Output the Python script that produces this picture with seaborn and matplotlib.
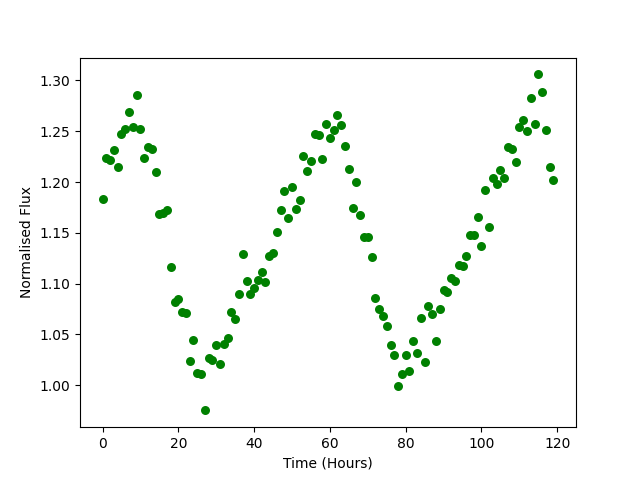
import numpy as np
import pandas as pd
import matplotlib
matplotlib.use('Agg')
import matplotlib.pyplot as plt
import seaborn as sns

# time in hours and normalised flux
hours = list(range(120))
flux = [1.183, 1.224, 1.222, 1.232, 1.215, 1.247, 1.252, 1.269, 1.254, 1.286,
        1.252, 1.224, 1.234, 1.233, 1.210, 1.168, 1.169, 1.172, 1.116, 1.082,
        1.085, 1.072, 1.071, 1.024, 1.044, 1.012, 1.011, 0.975, 1.027, 1.025,
        1.039, 1.021, 1.040, 1.046, 1.072, 1.065, 1.090, 1.129, 1.102, 1.090,
        1.096, 1.103, 1.111, 1.101, 1.127, 1.130, 1.151, 1.172, 1.191, 1.165,
        1.195, 1.173, 1.182, 1.226, 1.211, 1.221, 1.247, 1.246, 1.223, 1.257,
        1.243, 1.251, 1.266, 1.256, 1.235, 1.213, 1.174, 1.200, 1.167, 1.146,
        1.146, 1.126, 1.086, 1.075, 1.068, 1.058, 1.039, 1.030, 0.999, 1.011,
        1.030, 1.014, 1.043, 1.032, 1.066, 1.023, 1.078, 1.070, 1.043, 1.075,
        1.094, 1.092, 1.105, 1.102, 1.118, 1.117, 1.127, 1.148, 1.148, 1.166,
        1.137, 1.192, 1.156, 1.204, 1.198, 1.212, 1.204, 1.234, 1.233, 1.220,
        1.254, 1.261, 1.250, 1.283, 1.257, 1.306, 1.289, 1.251, 1.215, 1.202]

df = pd.DataFrame({'Time': hours, 'Flux': flux})

fig, ax = plt.subplots(figsize=(6.4, 4.8), dpi=100)
sns.scatterplot(data=df, x='Time', y='Flux', color='green', s=42, linewidth=0, ax=ax)
ax.set_xlabel('Time (Hours)')
ax.set_ylabel('Normalised Flux')
fig.savefig('out.png', dpi=100)
